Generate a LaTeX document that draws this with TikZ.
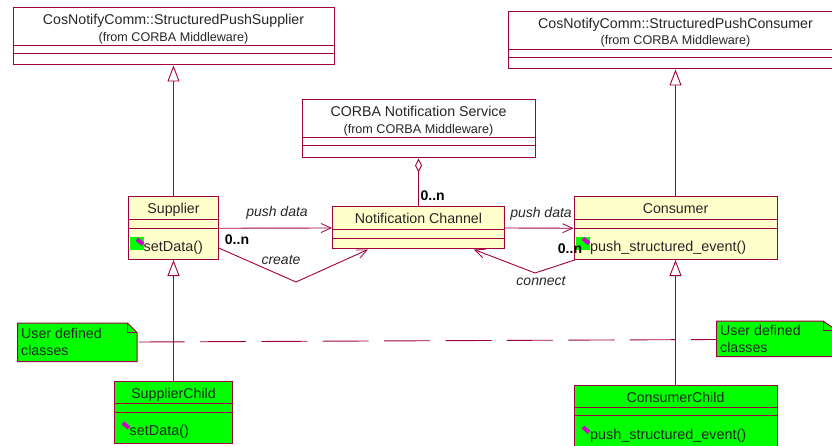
\documentclass[tikz,border=0pt]{standalone}
\usepackage{fontspec}
\setmainfont{Liberation Sans}
\usetikzlibrary{arrows.meta,positioning}
\definecolor{roseline}{HTML}{A00040}
\definecolor{rosefill}{HTML}{FFFFCC}
\definecolor{usergreen}{HTML}{00FF00}
\definecolor{opmagenta}{HTML}{D000C8}
\tikzset{
    classbox/.style={draw=roseline, line width=1pt, inner sep=0pt},
    coreclass/.style={classbox, fill=rosefill},
    userclass/.style={classbox, fill=usergreen},
    titletext/.style={font=\fontsize{14.2}{17}\selectfont, inner sep=0pt, anchor=base, text=black!85},
    notetext/.style={font=\fontsize{14.2}{16.7}\selectfont, inner sep=0pt, align=left, anchor=west, text=black!85},
    fromtext/.style={font=\fontsize{12.6}{15}\selectfont, inner sep=0pt, anchor=base, text=black!85},
    linklabel/.style={font=\fontsize{14}{17}\selectfont\itshape, inner sep=0pt, anchor=base, text=black!85},
    multlabel/.style={font=\fontsize{14}{17}\selectfont\bfseries, inner sep=0pt, anchor=base},
    optext/.style={font=\fontsize{14.4}{17}\selectfont, inner sep=0pt, anchor=base west, text=black!85},
    link/.style={draw=roseline, line width=0.9pt},
    extends/.style={link, -{Triangle[open, fill=white, length=16pt, width=12pt]}},
    navigates/.style={link, -{Straight Barb[length=10pt, width=9pt, line width=0.8pt]}},
    holds/.style={link, -{Diamond[open, fill=white, length=14pt, width=7pt]}},
    noteshape/.style={draw=roseline, line width=1pt, fill=usergreen},
    opicon/.style={rectangle, fill=opmagenta, inner sep=0pt, minimum width=8pt, minimum height=4pt, rotate=-40},
    opback/.style={fill=usergreen, inner sep=0pt, minimum width=14pt, minimum height=13pt},
}
\begin{document}
\begin{tikzpicture}[x=1pt,y=-1pt]
    \useasboundingbox (0,0) rectangle (832,446);
    % classes
    \node[classbox, minimum width=321pt, minimum height=57pt] (pushsupplier) at (173.5,36.5) {};
    \node[classbox, minimum width=335pt, minimum height=57pt] (pushconsumer) at (675.5,40.5) {};
    \node[classbox, minimum width=233pt, minimum height=58pt] (notifyservice) at (418.5,129) {};
    \node[coreclass, minimum width=172pt, minimum height=42pt] (channel) at (418.5,228) {};
    \node[coreclass, minimum width=90.5pt, minimum height=62.5pt] (supplier) at (173.5,228.25) {};
    \node[coreclass, minimum width=203pt, minimum height=62.5pt] (consumer) at (675.5,228.25) {};
    \node[userclass, minimum width=117.5pt, minimum height=62pt] (supplierchild) at (173.5,412) {};
    \node[userclass, minimum width=203pt, minimum height=66pt] (consumerchild) at (675.5,418) {};
    % compartments
    \foreach \cls/\ya/\yb in {pushsupplier/45.5/53.5, pushconsumer/49/57.5, notifyservice/137/145,
        channel/229/238, supplier/219/228, consumer/219/228, supplierchild/403.7/412, consumerchild/407/415}
        \draw[roseline, line width=0.9pt] (\cls.west |- 0,\ya) -- (\cls.east |- 0,\ya)
            (\cls.west |- 0,\yb) -- (\cls.east |- 0,\yb);
    % titles
    \node[titletext] (pushsuppliername) at (173.5,25) {CosNotifyComm::StructuredPushSupplier};
    \node[fromtext] (pushsupplierfrom) at (173.5,41.3) {(from CORBA Middleware)};
    \node[titletext] (pushconsumername) at (675.5,28.3) {CosNotifyComm::StructuredPushConsumer};
    \node[fromtext] (pushconsumerfrom) at (675.5,45) {(from CORBA Middleware)};
    \node[titletext] (servicename) at (418.5,116.7) {CORBA Notification Service};
    \node[fromtext] (servicefrom) at (418.5,133.3) {(from CORBA Middleware)};
    \node[titletext] (channelname) at (418.5,223.5) {Notification Channel};
    \node[titletext] (suppliername) at (173.5,213.3) {Supplier};
    \node[titletext] (consumername) at (675.5,213.3) {Consumer};
    \node[titletext] (supplierchildname) at (173.5,398) {SupplierChild};
    \node[titletext] (consumerchildname) at (675.5,402) {ConsumerChild};
    % operations
    \node[opback] (supplierback) at (137,243.5) {};
    \node[opback] (consumerback) at (583,243.5) {};
    \node[opicon] (suppliericon) at (140,241.7) {};
    \node[opicon] (consumericon) at (586,241) {};
    \node[opicon] (childicon) at (126,425.5) {};
    \node[opicon] (consumerchildicon) at (586,429.7) {};
    \node[optext] (setdata) at (143.5,251.3) {setData()};
    \node[optext] (pushevent) at (590,251.3) {push\_structured\_event()};
    \node[optext] (childsetdata) at (129.5,435.3) {setData()};
    \node[optext] (childpushevent) at (590,439) {push\_structured\_event()};
    % notes
    \draw[noteshape] (17.5,323) -- (127.5,323) -- (137,332.5) -- (137,361.5) -- (17.5,361.5) -- cycle;
    \draw[roseline, line width=0.9pt] (127.5,323) -- (127.5,332.5) -- (137,332.5);
    \draw[noteshape] (716.5,321) -- (823,321) -- (836,330) -- (836,356.5) -- (716.5,356.5) -- cycle;
    \draw[roseline, line width=0.9pt] (823,321) -- (823,330) -- (836,330);
    \node[notetext] (noteleft) at (21,342) {User defined\\classes};
    \node[notetext] (noteright) at (720,339) {User defined\\classes};
    \coordinate (noteleftport) at (138.5,342);
    \coordinate (noterightport) at (716.5,339.5);
    % connectors
    \draw[extends] (supplier.north) -- (pushsupplier.south);
    \draw[extends] (consumer.north) -- (pushconsumer.south);
    \draw[extends] (supplierchild.north) -- (supplier.south);
    \draw[extends] (consumerchild.north) -- (consumer.south);
    \draw[holds] (channel.north) -- (notifyservice.south);
    \draw[navigates] (supplier.east) -- (channel.west);
    \draw[navigates] (channel.east) -- (consumer.west);
    \coordinate (createstart) at (218.7,248);
    \coordinate (createbend) at (296,282);
    \coordinate (createend) at (368,249.5);
    \draw[navigates] (createstart) -- (createbend) -- (createend);
    \coordinate (connectstart) at (576,259.5);
    \coordinate (connectbend) at (535,273);
    \coordinate (connectend) at (474,249.5);
    \draw[navigates] (connectstart) -- (connectbend) -- (connectend);
    \draw[link, dash pattern=on 46pt off 15.4pt] (noteleftport) -- (noterightport);
    % labels
    \node[linklabel] (pushleft) at (277,216.7) {push data};
    \node[linklabel] (pushright) at (541,218) {push data};
    \node[linklabel] (createlabel) at (281,264.7) {create};
    \node[linklabel] (connectlabel) at (541,285.7) {connect};
    \node[multlabel] (multsupplier) at (237,244) {0..n};
    \node[multlabel] (multconsumer) at (570,254) {0..n};
    \node[multlabel] (multchannel) at (432.7,201) {0..n};
\end{tikzpicture}
\end{document}
